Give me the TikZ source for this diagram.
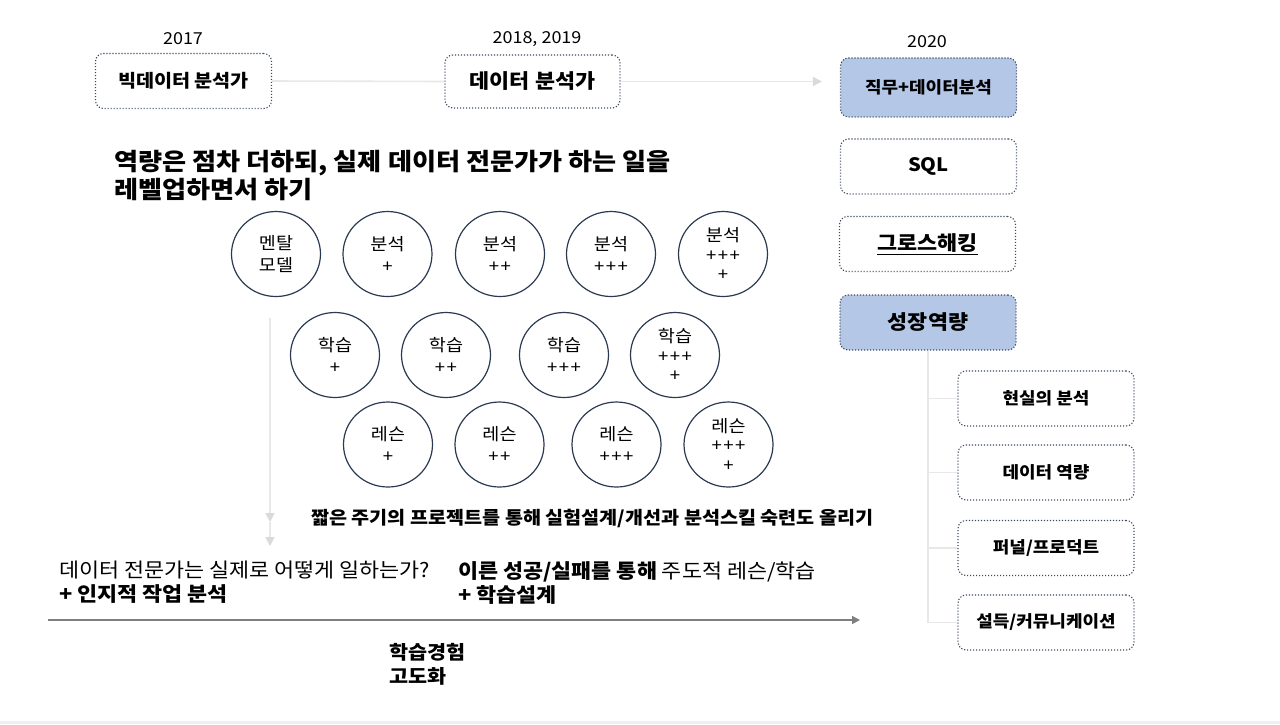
\documentclass[tikz,border=0pt]{standalone}
\usepackage{fontspec}
\setmainfont[FakeStretch=1.09]{Noto Sans CJK KR}
\usetikzlibrary{arrows.meta,shapes.geometric}
\definecolor{boxfill}{HTML}{B4C7E7}
\definecolor{dotline}{HTML}{3B4A5E}
\definecolor{circline}{HTML}{2B3A52}
\definecolor{faint}{HTML}{E8E8E8}
\definecolor{faintTip}{HTML}{DADADA}
\definecolor{axisgray}{HTML}{7F7F7F}
\newcommand{\fsz}[1]{\fontsize{#1}{#1}\selectfont}
\newcommand{\pl}{+\kern1.5pt}
\begin{document}
\begin{tikzpicture}[x=1pt,y=-1pt,
  dotbox/.style={draw=dotline, dash pattern=on 1.2pt off 1.8pt, line width=1.1pt,
    rounded corners=8pt, minimum width=176pt, minimum height=55pt, inner sep=0pt,
    font=\bfseries\fsz{18}},
  fillbox/.style={dotbox, fill=boxfill},
  subbox/.style={dotbox, font=\bfseries\fsz{16.5}},
  bub/.style={draw=circline, line width=1.2pt, ellipse, minimum width=89pt,
    minimum height=85pt, inner sep=0pt, align=center, font=\fontsize{17}{22}\selectfont},
  bubt/.style={bub, font=\fontsize{17}{19.5}\selectfont},
  year/.style={inner sep=0pt, font=\fsz{16.5}},
  txt/.style={inner sep=0pt, anchor=north west, align=left},
  faintline/.style={draw=faint, line width=1.6pt},
  fainttip/.style={-{Triangle[length=9pt,width=9pt,fill=faintTip,color=faintTip]}}
]
\useasboundingbox (0,0) rectangle (1280,724);
\fill[gray!12] (0,721) rectangle (1280,724);

% timeline top
\node[year] (y1) at (183,39) {2017};
\node[year] (y2) at (537,39) {2018, 2019};
\node[year] (y3) at (927,42) {2020};

\node[dotbox] (b1) at (183.5,81) {빅데이터 분석가};
\node[dotbox, minimum width=175pt, minimum height=53pt, font=\bfseries\fsz{20}] (b2) at (532.5,81.5) {데이터 분석가};
\node[fillbox, minimum height=59pt, font=\bfseries\fsz{16.5}] (c1) at (928.5,87.5) {직무+데이터분석};
\node[dotbox, font=\bfseries\fsz{18.5}] (c2) at (928.5,166.5) {SQL};
\node[dotbox, font=\bfseries\fsz{20}] (c3) at (927.5,244) {\underline{그로스해킹}};
\node[fillbox, font=\bfseries\fsz{20}] (c4) at (928,322.5) {성장역량};

\node[subbox] (s1) at (1046,398.5) {현실의 분석};
\node[subbox] (s2) at (1046,472.5) {데이터 역량};
\node[subbox] (s3) at (1046,548) {퍼널/프로덕트};
\node[subbox] (s4) at (1046,622.5) {설득/커뮤니케이션};

\draw[faintline] (b1.east) -- (b2.west);
\draw[faintline, fainttip, shorten >=18pt] (b2.east) -- (b2.east -| c1.west);
\foreach \s in {s1,s2,s3,s4}
  \draw[faintline] (c4.south) |- (\s.west);

% title
\node[txt, font=\bfseries\fontsize{24}{28}\selectfont] (title) at (114,150)
  {역량은 점차 더하되, 실제 데이터 전문가가 하는 일을\\레벨업하면서 하기};

% bubbles
\node[bub] (m0) at (276,254) {멘탈\\모델};
\node[bub] (a1) at (387.5,254) {분석\\+};
\node[bub] (a2) at (500,254) {분석\\\pl+};
\node[bub] (a3) at (611,254) {분석\\\pl\pl+};
\node[bubt] (a4) at (723,254) {분석\\\pl\pl+\\+};

\node[bub] (l1) at (335,355) {학습\\+};
\node[bub] (l2) at (446,355) {학습\\\pl+};
\node[bub] (l3) at (564,355) {학습\\\pl\pl+};
\node[bubt] (l4) at (675,355) {학습\\\pl\pl+\\+};

\node[bub] (r1) at (388,444.5) {레슨\\+};
\node[bub] (r2) at (499.5,444.5) {레슨\\\pl+};
\node[bub] (r3) at (616.5,444.5) {레슨\\\pl\pl+};
\node[bubt] (r4) at (728.5,444.5) {레슨\\\pl\pl+\\+};

% faint vertical arrow
\coordinate (va) at (270,318);
\coordinate (vb) at (270,522);
\coordinate (vc) at (270,546);
\draw[faintline, fainttip] (va) -- (vb);
\draw[faintline, fainttip] (vb) -- (vc);

% texts
\node[txt, font=\bfseries\fsz{18}] (proj) at (311,509)
  {짧은 주기의 프로젝트를 통해 실험설계/개선과 분석스킬 숙련도 올리기};
\node[txt, font=\fontsize{20}{24}\selectfont] (q1) at (59,561)
  {데이터 전문가는 실제로 어떻게 일하는가?\\\textbf{+ 인지적 작업 분석}};
\node[txt, font=\fontsize{20}{24}\selectfont] (q2) at (458,561)
  {\textbf{이른 성공/실패를 통해} 주도적 레슨/학습\\\textbf{+ 학습설계}};

% axis
\coordinate (ax0) at (48,620);
\coordinate (ax1) at (860,620);
\draw[draw=axisgray, line width=1.5pt, -{Triangle[length=8pt,width=8pt]}] (ax0) -- (ax1);

\node[txt, font=\bfseries\fontsize{19}{24}\selectfont] (hk) at (389,643) {학습경험\\고도화};
\end{tikzpicture}
\end{document}
